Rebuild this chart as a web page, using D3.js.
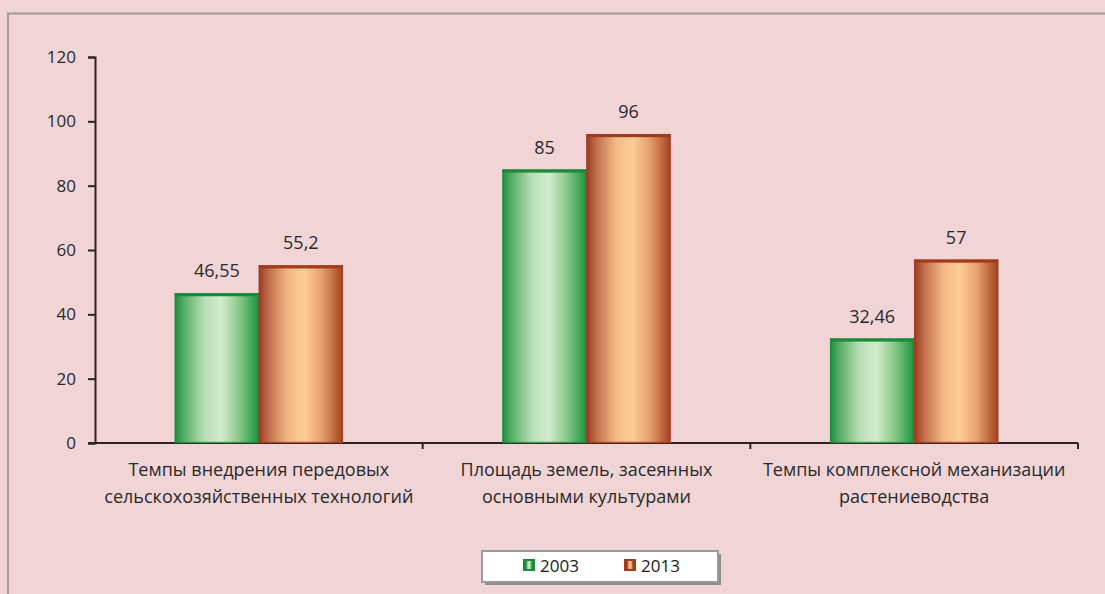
<!DOCTYPE html>
<html><head><meta charset="utf-8">
<script src="https://cdn.jsdelivr.net/npm/d3@7"></script>
<style>body{margin:0;background:#f0d4d6;}svg{display:block;}</style>
</head><body><svg id="c" width="1105" height="594"></svg>
<script>
const categories = [
  ["Темпы внедрения передовых", "сельскохозяйственных технологий"],
  ["Площадь земель, засеянных", "основными культурами"],
  ["Темпы комплексной механизации", "растениеводства"]
];
const seriesNames = ["2003", "2013"];
const values2003 = [46.55, 85, 32.46];
const values2013 = [55.2, 96, 57];
const labels2003 = ["46,55", "85", "32,46"];
const labels2013 = ["55,2", "96", "57"];
const yTicks = [0, 20, 40, 60, 80, 100, 120];

const svg = d3.select("#c");
const font = "'Open Sans', 'Noto Sans', sans-serif";
const W = 1105, H = 594;
svg.append("rect").attr("width", W).attr("height", H).attr("fill", "#f0d4d6");
// frame
svg.append("rect").attr("x", 8).attr("y", 13.5).attr("width", 1200).attr("height", 700)
  .attr("fill", "none").attr("stroke", "#a09a9b").attr("stroke-width", 2);

const defs = svg.append("defs");
function grad(id, stops) {
  const g = defs.append("linearGradient").attr("id", id).attr("x1", "0%").attr("x2", "100%").attr("y1", "0%").attr("y2", "0%");
  stops.forEach(s => g.append("stop").attr("offset", s[0]).attr("stop-color", s[1]));
}
grad("gGreen", [["0%", "#1f8f3f"], ["12%", "#5cb06a"], ["35%", "#b9dfb4"], ["55%", "#d3ecce"], ["75%", "#8fcb8e"], ["100%", "#1a943e"]]);
grad("gOrange", [["0%", "#9c3a1f"], ["12%", "#c0704c"], ["35%", "#f3b985"], ["55%", "#fdcc97"], ["75%", "#e5a06b"], ["100%", "#a5421f"]]);

const x0 = 95, x1 = 1078, yTop = 57, yBot = 443;
const x = d3.scaleBand().domain(d3.range(categories.length)).range([x0, x1]).paddingInner(0).paddingOuter(0);
const y = d3.scaleLinear().domain([0, 120]).range([yBot, yTop]);
const bw = 84;

// y axis
const yAxis = svg.append("g").attr("transform", `translate(${x0},0)`)
  .call(d3.axisLeft(y).tickValues(yTicks).tickSize(7).tickPadding(12));
yAxis.select(".domain").attr("stroke", "#2b2222").attr("stroke-width", 2);
yAxis.selectAll(".tick line").attr("stroke", "#2b2222").attr("stroke-width", 2);
yAxis.selectAll("text").attr("font-family", font).attr("font-size", 17).attr("fill", "#2a2a2a");

// x axis
const xAxisG = svg.append("g").attr("transform", `translate(0,${yBot})`);
xAxisG.append("line").attr("x1", x0 - 7).attr("x2", x1).attr("stroke", "#2b2222").attr("stroke-width", 2);
d3.range(1, categories.length + 1).forEach(i => {
  const xx = i < categories.length ? x(i) : x1;
  xAxisG.append("line").attr("x1", xx).attr("x2", xx).attr("y1", 0).attr("y2", 6).attr("stroke", "#2b2222").attr("stroke-width", 2);
});

const series = [
  {vals: values2003, labels: labels2003, fill: "url(#gGreen)", stroke: "#1b8a3b", off: -bw},
  {vals: values2013, labels: labels2013, fill: "url(#gOrange)", stroke: "#a03b1e", off: 0}
];
series.forEach(s => {
  const g = svg.append("g");
  s.vals.forEach((v, i) => {
    const cx = x(i) + x.bandwidth() / 2 + s.off;
    g.append("rect").attr("x", cx).attr("y", y(v)).attr("width", bw).attr("height", yBot - y(v))
      .attr("fill", s.fill);
    g.append("rect").attr("x", cx + 0.5).attr("y", y(v) + 0.5).attr("width", bw - 1).attr("height", yBot - y(v) - 1)
      .attr("fill", "none").attr("stroke", s.stroke).attr("stroke-width", 1.5).attr("stroke-opacity", 0.8);
    g.append("rect").attr("x", cx).attr("y", y(v)).attr("width", bw).attr("height", 3).attr("fill", s.stroke);
    g.append("text").attr("x", cx + bw / 2).attr("y", y(v) - 16).attr("text-anchor", "middle")
      .attr("font-family", font).attr("font-size", 18).attr("fill", "#2a2a2a").text(s.labels[i]);
  });
});

// category labels
categories.forEach((lines, i) => {
  lines.forEach((ln, j) => {
    svg.append("text").attr("x", x(i) + x.bandwidth() / 2).attr("y", 476 + j * 27).attr("text-anchor", "middle")
      .attr("font-family", font).attr("font-size", 18).attr("fill", "#2a2a2a").text(ln);
  });
});

// legend
const lg = svg.append("g");
lg.append("rect").attr("x", 485).attr("y", 554).attr("width", 236).attr("height", 31).attr("fill", "#8c8c8c");
lg.append("rect").attr("x", 482).attr("y", 551).attr("width", 236).attr("height", 31).attr("fill", "#ffffff")
  .attr("stroke", "#9a9a9a").attr("stroke-width", 2);
const legItems = [{name: seriesNames[0], fill: "url(#gGreen)", stroke: "#1b8a3b", x: 523}, {name: seriesNames[1], fill: "url(#gOrange)", stroke: "#a03b1e", x: 624}];
legItems.forEach(it => {
  lg.append("rect").attr("x", it.x).attr("y", 559).attr("width", 12).attr("height", 12).attr("fill", it.stroke);
  lg.append("rect").attr("x", it.x + 3).attr("y", 561).attr("width", 6).attr("height", 8).attr("fill", it.fill);
  lg.append("text").attr("x", it.x + 17).attr("y", 572).attr("font-family", font).attr("font-size", 17)
    .attr("fill", "#1a1a1a").text(it.name);
});
</script></body></html>
